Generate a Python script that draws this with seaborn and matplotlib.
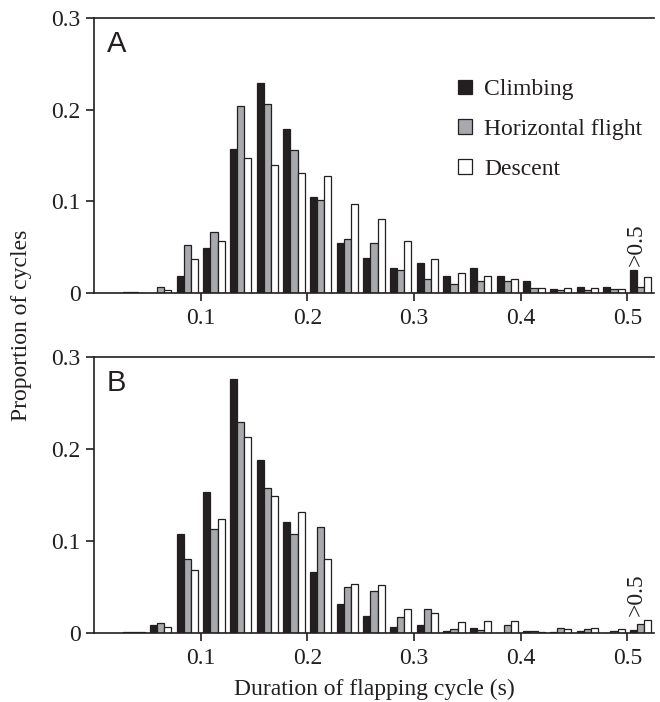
import matplotlib
matplotlib.use("Agg")
import matplotlib.pyplot as plt
import pandas as pd
import seaborn as sns

# Bin centres of flapping-cycle duration (s); last bin collects cycles > 0.5 s
bin_centers = [0.0375, 0.0625, 0.0875, 0.1125, 0.1375, 0.1625, 0.1875, 0.2125,
               0.2375, 0.2625, 0.2875, 0.3125, 0.3375, 0.3625, 0.3875, 0.4125,
               0.4375, 0.4625, 0.4875, 0.5125]
modes = ["Climbing", "Horizontal flight", "Descent"]

# Panel A
a_climbing = [0.001, 0.000, 0.019, 0.049, 0.157, 0.229, 0.179, 0.105, 0.054, 0.038,
              0.027, 0.033, 0.019, 0.027, 0.019, 0.013, 0.004, 0.006, 0.006, 0.025]
a_horizontal = [0.001, 0.007, 0.052, 0.067, 0.204, 0.206, 0.156, 0.101, 0.059, 0.054,
                0.025, 0.015, 0.010, 0.013, 0.013, 0.005, 0.003, 0.003, 0.004, 0.007]
a_descent = [0.000, 0.003, 0.037, 0.057, 0.147, 0.140, 0.131, 0.128, 0.097, 0.081,
             0.057, 0.037, 0.022, 0.019, 0.015, 0.005, 0.005, 0.005, 0.004, 0.017]

# Panel B
b_climbing = [0.001, 0.009, 0.108, 0.153, 0.276, 0.188, 0.121, 0.066, 0.032, 0.019,
              0.006, 0.009, 0.002, 0.005, 0.000, 0.002, 0.001, 0.002, 0.000, 0.003]
b_horizontal = [0.001, 0.011, 0.080, 0.113, 0.229, 0.158, 0.108, 0.115, 0.050, 0.046,
                0.017, 0.026, 0.004, 0.003, 0.009, 0.002, 0.005, 0.004, 0.002, 0.010]
b_descent = [0.001, 0.006, 0.068, 0.124, 0.213, 0.149, 0.132, 0.080, 0.053, 0.052,
             0.026, 0.022, 0.012, 0.013, 0.013, 0.001, 0.004, 0.005, 0.004, 0.014]

x_ticks = [0.1, 0.2, 0.3, 0.4, 0.5]
x_ticklabels = ["0.1", "0.2", "0.3", "0.4", "0.5"]
y_ticks = [0, 0.1, 0.2, 0.3]
y_ticklabels = ["0", "0.1", "0.2", "0.3"]

ink = "#231f20"
palette = {"Climbing": ink, "Horizontal flight": "#a7a9ac", "Descent": "#ffffff"}

sns.set_theme(style="ticks")
plt.rcParams.update({
    "font.family": ["Liberation Serif", "DejaVu Serif"],
    "font.size": 17,
    "axes.linewidth": 1.2,
    "axes.edgecolor": ink,
    "xtick.color": ink,
    "ytick.color": ink,
    "xtick.major.size": 5.8,
    "ytick.major.size": 5.8,
    "xtick.major.width": 1.2,
    "ytick.major.width": 1.2,
    "xtick.major.pad": 5,
    "ytick.major.pad": 4,
    "xtick.labelsize": 17,
    "ytick.labelsize": 17,
    "text.color": ink,
})

W, H = 660, 702
fig = plt.figure(figsize=(W / 100, H / 100), dpi=100)
ax_a = fig.add_axes([94 / W, 1 - 293 / H, 560 / W, 275 / H])
ax_b = fig.add_axes([94 / W, 1 - 633 / H, 560 / W, 276 / H])


def draw_panel(ax, climbing, horizontal, descent, letter, show_legend, over_y):
    df = pd.DataFrame({
        "duration": bin_centers * 3,
        "proportion": climbing + horizontal + descent,
        "mode": [m for m in modes for _ in bin_centers],
    })
    sns.barplot(data=df, x="duration", y="proportion", hue="mode",
                hue_order=modes, palette=palette, native_scale=True,
                width=0.79, errorbar=None, saturation=1,
                edgecolor=ink, linewidth=0.9, ax=ax, legend=show_legend)
    ax.set_xlim(0, 0.525)
    ax.set_ylim(0, 0.3)
    ax.set_xticks(x_ticks, x_ticklabels)
    ax.set_yticks(y_ticks, y_ticklabels)
    ax.set_xlabel("")
    ax.set_ylabel("")
    ax.spines["right"].set_visible(False)
    ax.text(0.023, 0.955, letter, transform=ax.transAxes, ha="left", va="top",
            fontsize=21, family=["Liberation Sans", "DejaVu Sans"])
    ax.text(0.508, over_y, ">0.5", rotation=90, ha="center", va="bottom",
            fontsize=17)
    if show_legend:
        handles, labels = ax.get_legend_handles_labels()
        ax.legend(handles, labels, loc="upper left",
                  bbox_to_anchor=(0.65, 0.777), frameon=False, fontsize=17,
                  handlelength=0.6, handleheight=0.6, handletextpad=0.5,
                  labelspacing=0.8, borderpad=0, borderaxespad=0)


draw_panel(ax_a, a_climbing, a_horizontal, a_descent, "A", True, 0.029)
draw_panel(ax_b, b_climbing, b_horizontal, b_descent, "B", False, 0.018)

fig.text(22 / W, 1 - 325 / H, "Proportion of cycles", rotation=90,
         ha="center", va="center", fontsize=17)
fig.text(374 / W, 1 - 689 / H, "Duration of flapping cycle (s)",
         ha="center", va="center", fontsize=17)

fig.savefig("out.png", dpi=100)
